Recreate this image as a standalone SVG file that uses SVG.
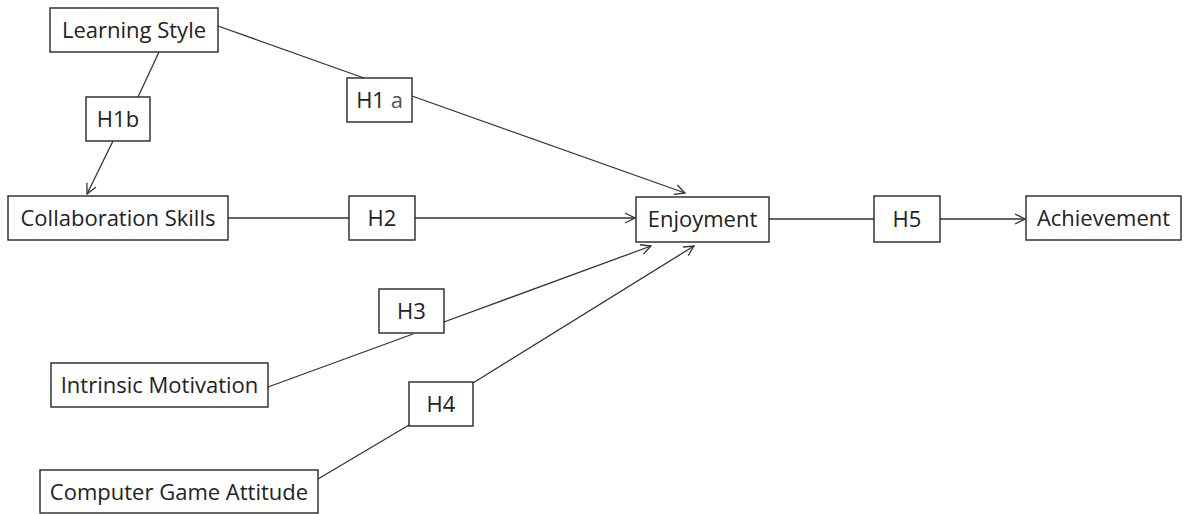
<svg xmlns="http://www.w3.org/2000/svg" width="1188" height="514" viewBox="0 0 1188 514">
<style>
.box{fill:#fff;stroke:#262626;stroke-width:1.4}
.t{font-family:"Open Sans","Liberation Sans",sans-serif;font-size:22px;fill:#222;text-anchor:middle}
.c{stroke:#333;stroke-width:1.3;fill:none}
</style>
<defs>
<marker id="a" markerWidth="12" markerHeight="12" refX="11" refY="6" orient="auto" markerUnits="userSpaceOnUse">
<path d="M1,1 L11,6 L1,11" fill="none" stroke="#333" stroke-width="1.3"/>
</marker>
</defs>
<rect width="1188" height="514" fill="#fff"/>
<g id="connectors">
<line class="c" x1="159" y1="52" x2="138" y2="97"/>
<line class="c" x1="113" y1="141" x2="87" y2="194" marker-end="url(#a)"/>
<line class="c" x1="218" y1="26" x2="364" y2="78"/>
<line class="c" x1="412" y1="96" x2="685" y2="193" marker-end="url(#a)"/>
<line class="c" x1="228" y1="218" x2="349" y2="218"/>
<line class="c" x1="415" y1="218" x2="635" y2="218" marker-end="url(#a)"/>
<line class="c" x1="268" y1="387" x2="413" y2="334"/>
<line class="c" x1="444" y1="322" x2="651" y2="246" marker-end="url(#a)"/>
<line class="c" x1="318" y1="479" x2="409" y2="425"/>
<line class="c" x1="473" y1="383" x2="694" y2="246" marker-end="url(#a)"/>
<line class="c" x1="769" y1="219" x2="874" y2="219"/>
<line class="c" x1="940" y1="219" x2="1025" y2="219" marker-end="url(#a)"/>
</g>
<g id="learning-style"><rect class="box" x="50" y="8" width="168" height="44"/><text class="t" x="134" y="38">Learning Style</text></g>
<g id="h1b"><rect class="box" x="86" y="97" width="64" height="44"/><text class="t" x="118" y="127">H1b</text></g>
<g id="h1a"><rect class="box" x="347" y="78" width="65" height="44"/><text class="t" x="379.5" y="108">H1 <tspan fill="#555">a</tspan></text></g>
<g id="collaboration-skills"><rect class="box" x="8" y="196" width="220" height="44"/><text class="t" x="118" y="226">Collaboration Skills</text></g>
<g id="h2"><rect class="box" x="349" y="196" width="66" height="44"/><text class="t" x="382" y="226">H2</text></g>
<g id="enjoyment"><rect class="box" x="636" y="197" width="133" height="45"/><text class="t" x="702.5" y="227">Enjoyment</text></g>
<g id="h5"><rect class="box" x="874" y="196" width="66" height="46"/><text class="t" x="907" y="227">H5</text></g>
<g id="achievement"><rect class="box" x="1026" y="196" width="155" height="44"/><text class="t" x="1103.5" y="226">Achievement</text></g>
<g id="h3"><rect class="box" x="379" y="289" width="65" height="44"/><text class="t" x="411.5" y="319">H3</text></g>
<g id="intrinsic-motivation"><rect class="box" x="51" y="363" width="217" height="44"/><text class="t" x="159.5" y="393">Intrinsic Motivation</text></g>
<g id="h4"><rect class="box" x="409" y="382" width="64" height="44"/><text class="t" x="441" y="412">H4</text></g>
<g id="computer-game-attitude"><rect class="box" x="40" y="470" width="278" height="43"/><text class="t" x="179" y="500">Computer Game Attitude</text></g>
</svg>
